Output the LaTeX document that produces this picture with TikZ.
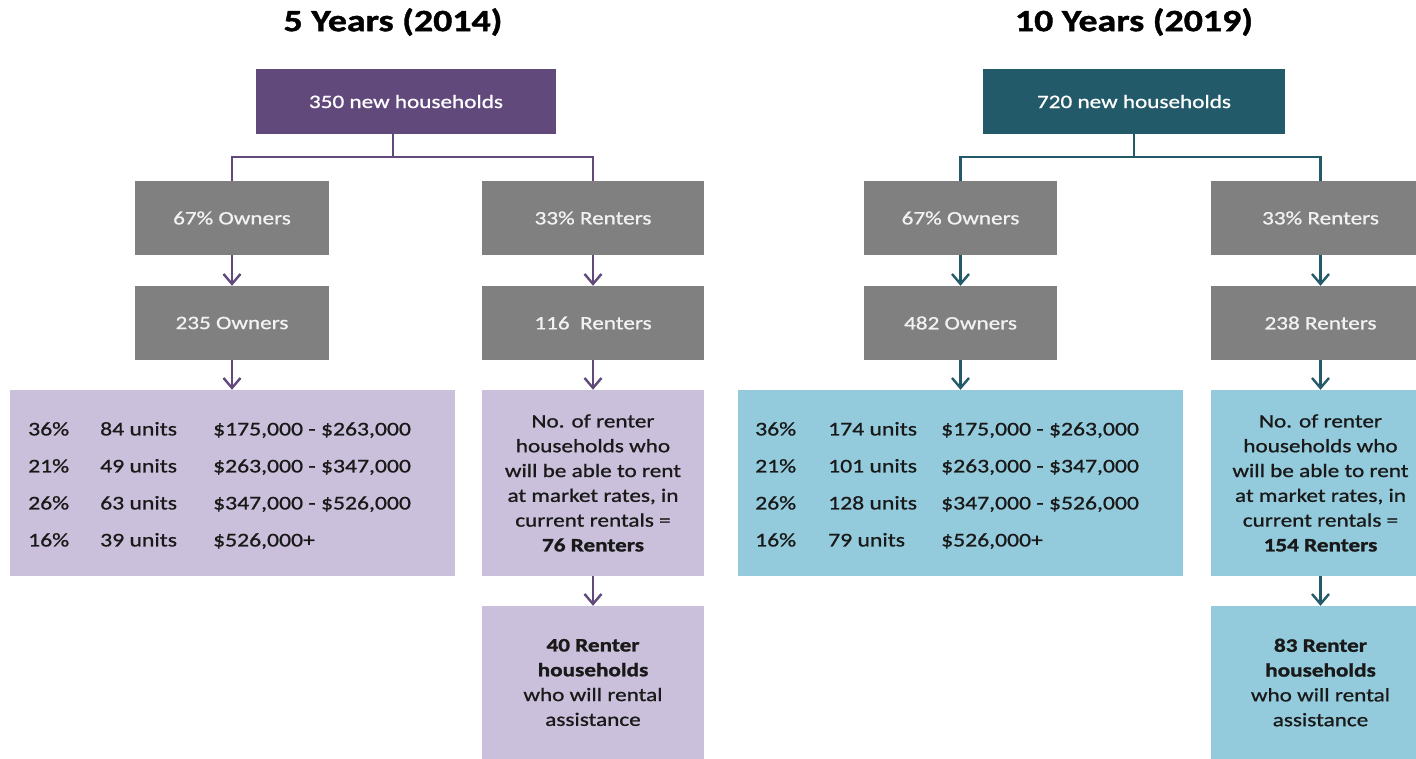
\documentclass[tikz,border=0pt]{standalone}
\usepackage{fontspec}
\setmainfont{Carlito}[FakeStretch=1.22, UprightFeatures={FakeBold=0.9}, BoldFeatures={FakeBold=1.3}]
\usepackage{tikz}
\usetikzlibrary{arrows.meta,positioning}
\definecolor{purpdark}{RGB}{97,74,123}
\definecolor{purplite}{RGB}{203,192,219}
\definecolor{tealdark}{RGB}{34,90,105}
\definecolor{teallite}{RGB}{147,203,221}
\definecolor{boxgray}{RGB}{128,128,128}
\definecolor{boxtext}{RGB}{242,242,242}
\tikzset{
  ttl/.style={font=\bfseries\fontsize{31}{36}\selectfont},
  topbox/.style={fill=#1, text=white, minimum width=300pt, minimum height=65pt, inner sep=0pt,
    font=\fontsize{19}{24}\selectfont},
  gbox/.style={fill=boxgray, text=boxtext, minimum height=74pt, inner sep=0pt,
    font=\fontsize{19}{24}\selectfont},
  lbox/.style={fill=#1, text=black!90, minimum width=222pt, inner sep=0pt, align=center,
    font=\fontsize{19}{24.8}\selectfont},
  tbl/.style={text=black!90, inner sep=0pt, align=left, anchor=west,
    font=\fontsize{19.4}{37}\selectfont},
  conn/.style={draw=#1, line width=2.4pt},
  arr/.style={-{Straight Barb[length=10pt,width=17pt]}, draw=#1, line width=2.4pt},
}

\begin{document}
\begin{tikzpicture}[x=1pt,y=-1pt]
  \useasboundingbox (0,0) rectangle (1416,759);
  % 5 years
  \node[ttl] (h5) at (393,22) {5 Years (2014)};
  \node[topbox=purpdark] (t5) at (406,101.5) {350 new households};
  \node[gbox, minimum width=194pt] (o5) at (232,218) {67\% Owners};
  \node[gbox, minimum width=222pt] (r5) at (593,218) {33\% Renters};
  \node[gbox, minimum width=194pt] (on5) at (232,323) {235 Owners};
  \node[gbox, minimum width=222pt] (rn5) at (593,323) {116\ \ Renters};
  \node[lbox=purplite, minimum width=445pt, minimum height=186pt] (od5) at (232.5,483) {};
  \node[tbl] (ol5) at (28,485.5) {%
    \makebox[72pt][l]{36\%}\makebox[113pt][l]{84 units}\$175,000 - \$263,000\\
    \makebox[72pt][l]{21\%}\makebox[113pt][l]{49 units}\$263,000 - \$347,000\\
    \makebox[72pt][l]{26\%}\makebox[113pt][l]{63 units}\$347,000 - \$526,000\\
    \makebox[72pt][l]{16\%}\makebox[113pt][l]{39 units}\$526,000+};
  \node[lbox=purplite, minimum height=186pt] (rd5) at (593,483)
    {No. of renter\\households who\\will be able to rent\\at market rates, in\\current rentals =\\\textbf{76 Renters}};
  \node[lbox=purplite, minimum height=153pt] (ra5) at (593,682.5)
    {\textbf{40 Renter}\\\textbf{households}\\who will rental\\assistance};
  \coordinate (j5) at (393,157);
  \draw[conn=purpdark] (t5.south -| j5) -- (j5);
  \draw[conn=purpdark] (o5.north) |- (j5) -| (r5.north);
  \draw[arr=purpdark] (o5) -- (on5);
  \draw[arr=purpdark] (r5) -- (rn5);
  \draw[arr=purpdark] (on5.south) -- (on5.south |- od5.north);
  \draw[arr=purpdark] (rn5) -- (rd5);
  \draw[arr=purpdark] (rd5) -- (ra5);
  % 10 years
  \node[ttl] (h10) at (1134,22) {10 Years (2019)};
  \node[topbox=tealdark, minimum width=302pt] (t10) at (1134,101.5) {720 new households};
  \node[gbox, minimum width=193pt] (o10) at (960.5,218) {67\% Owners};
  \node[gbox, minimum width=219pt] (r10) at (1320.5,218) {33\% Renters};
  \node[gbox, minimum width=193pt] (on10) at (960.5,323) {482 Owners};
  \node[gbox, minimum width=219pt] (rn10) at (1320.5,323) {238 Renters};
  \node[lbox=teallite, minimum width=445pt, minimum height=186pt] (od10) at (960.5,483) {};
  \node[tbl] (ol10) at (755,485.5) {%
    \makebox[73pt][l]{36\%}\makebox[113pt][l]{174 units}\$175,000 - \$263,000\\
    \makebox[73pt][l]{21\%}\makebox[113pt][l]{101 units}\$263,000 - \$347,000\\
    \makebox[73pt][l]{26\%}\makebox[113pt][l]{128 units}\$347,000 - \$526,000\\
    \makebox[73pt][l]{16\%}\makebox[113pt][l]{79 units}\$526,000+};
  \node[lbox=teallite, minimum width=219pt, minimum height=186pt] (rd10) at (1320.5,483)
    {No. of renter\\households who\\will be able to rent\\at market rates, in\\current rentals =\\\textbf{154 Renters}};
  \node[lbox=teallite, minimum width=219pt, minimum height=153pt] (ra10) at (1320.5,682.5)
    {\textbf{83 Renter}\\\textbf{households}\\who will rental\\assistance};
  \coordinate (j10) at (1134,157);
  \draw[conn=tealdark] (t10.south -| j10) -- (j10);
  \draw[conn=tealdark] (o10.north) |- (j10) -| (r10.north);
  \draw[arr=tealdark] (o10) -- (on10);
  \draw[arr=tealdark] (r10) -- (rn10);
  \draw[arr=tealdark] (on10) -- (od10);
  \draw[arr=tealdark] (rn10) -- (rd10);
  \draw[arr=tealdark] (rd10) -- (ra10);
\end{tikzpicture}
\end{document}
